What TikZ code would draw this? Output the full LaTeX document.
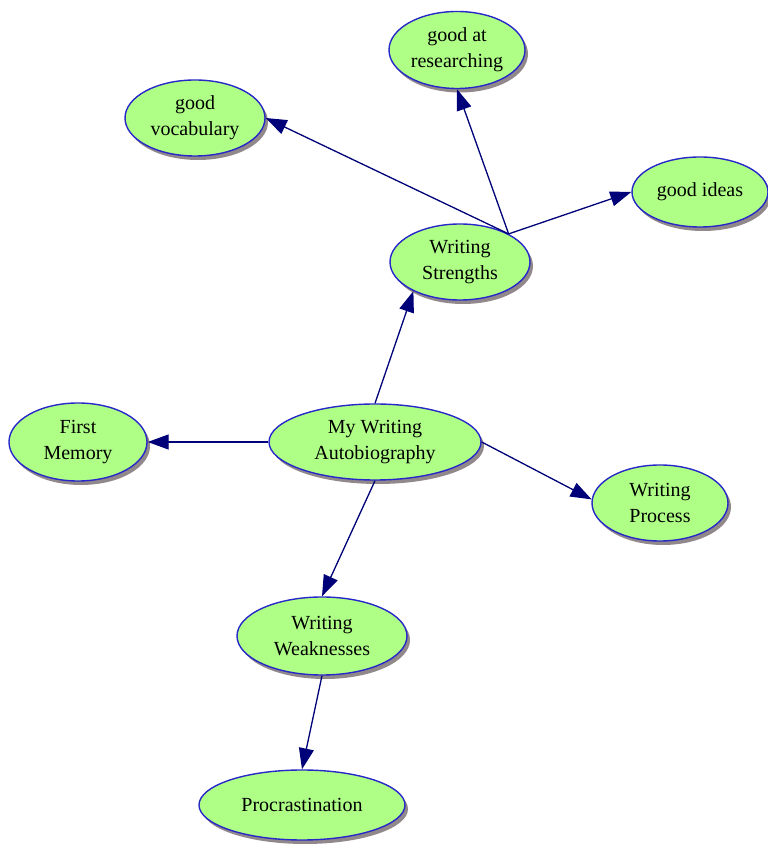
\documentclass[tikz,border=0pt]{standalone}
\usepackage{fontspec}
\setmainfont{Liberation Serif}
\usetikzlibrary{shapes.geometric,arrows.meta,shadows}
\definecolor{nodefill}{RGB}{175,255,135}
\definecolor{nodeline}{RGB}{40,40,200}
\definecolor{edgecol}{RGB}{0,0,120}
\definecolor{shadowcol}{RGB}{125,115,118}
\tikzset{
  bubble/.style={ellipse, draw=nodeline, line width=1.4pt, fill=nodefill, inner sep=0pt,
    align=center, font=\fontsize{20}{26}\selectfont,
    drop shadow={shadow xshift=3pt, shadow yshift=-4pt, fill=shadowcol, opacity=0.85}},
  link/.style={draw=edgecol, line width=1.3pt, -{Triangle[length=21pt,width=15pt]}, shorten >=0pt}
}
\begin{document}
\begin{tikzpicture}[x=1pt,y=1pt]
\useasboundingbox (0,0) rectangle (768,844);
\node[bubble, minimum width=136pt, minimum height=77pt] (GR) at (457,794) {good at\\researching};
\node[bubble, minimum width=140pt, minimum height=76pt] (GV) at (195,726) {good\\vocabulary};
\node[bubble, minimum width=136pt, minimum height=70pt] (GI) at (700,652) {good ideas};
\node[bubble, minimum width=140pt, minimum height=76pt] (WS) at (460,582) {Writing\\Strengths};
\node[bubble, minimum width=212pt, minimum height=76pt] (A) at (375,402) {My Writing\\Autobiography};
\node[bubble, minimum width=138pt, minimum height=78pt] (FM) at (78,402) {First\\Memory};
\node[bubble, minimum width=136pt, minimum height=76pt] (WP) at (660,341) {Writing\\Process};
\node[bubble, minimum width=170pt, minimum height=78pt] (WW) at (322,208) {Writing\\Weaknesses};
\node[bubble, minimum width=206pt, minimum height=70pt] (P) at (302,39) {Procrastination};
\coordinate (sp) at (WS.30);
\draw[link] (A.north) -- (WS.212);
\draw[link] (A.west) -- (FM.east);
\draw[link] (A.east) -- (WP.177);
\draw[link] (A.south) -- (WW.north);
\draw[link] (WW.south) -- (P.north);
\draw[link] (sp) -- (GV.east);
\draw[link] (sp) -- (GR.south);
\draw[link] (sp) -- (GI.west);
\end{tikzpicture}
\end{document}
